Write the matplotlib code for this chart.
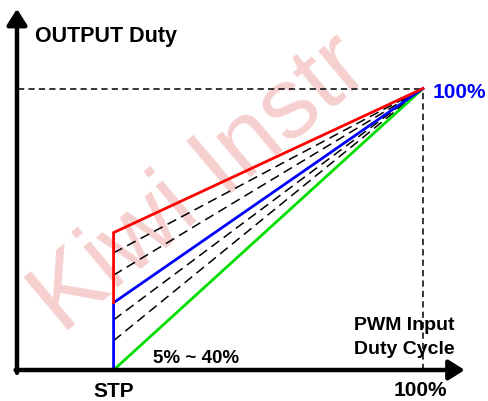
import matplotlib.pyplot as plt

plt.rcParams['font.family'] = ['Liberation Sans', 'DejaVu Sans']
plt.rcParams['lines.scale_dashes'] = False

# input / output duty values (%)
stp = 23.6
full = 100
red_start = 48.8
blue_start = 23.9
green_start = 0
dash_upper = [41.6, 33.7]   # between red and blue
dash_lower = [17.8, 10.4]   # between blue and green
range_label = "5% ~ 40%"

fig = plt.figure(figsize=(4.88, 4.01), dpi=100)
ax = fig.add_axes([0, 0, 1, 1])
# x: 0 -> 18px, 100 -> 423px ; y: 0 -> 370px, 100 -> 88.5px (from top)
ax.set_xlim(-18 / 4.05, (488 - 18) / 4.05)
ax.set_ylim(-31 / 2.815, 370 / 2.815)
ax.axis('off')

# faint watermark
ax.text(10.9, 12.4, "Kiwi Instr", rotation=40, rotation_mode='anchor',
        fontsize=72, color='#f6cfcf', zorder=0, ha='left', va='baseline')

# axes with arrows
arrow = dict(arrowstyle='-|>,head_length=0.95,head_width=0.6', lw=3.2,
             color='black', shrinkA=0, shrinkB=0, mutation_scale=10)
ax.annotate('', xy=(-0.25, 128.3), xytext=(-0.25, -1.0), arrowprops=arrow)
ax.annotate('', xy=(110.3, 0), xytext=(-0.6, 0), arrowprops=arrow)

# 100% guides
ax.plot([0, full], [full, full], color='black', lw=1.1, dashes=(4.5, 3))
ax.plot([full, full], [0, full], color='black', lw=1.1, dashes=(4.5, 3))

# intermediate curves
for y0 in dash_upper + dash_lower:
    ax.plot([stp, full], [y0, full], color='black', lw=1.1, dashes=(7, 4))

# main curves
ax.plot([stp, full], [green_start, full], color='#00dd00', lw=2, solid_capstyle='butt')
ax.plot([stp, stp, full], [green_start, blue_start, full], color='#0000ff', lw=2,
        solid_joinstyle='miter')
ax.plot([stp, stp, full], [blue_start, red_start, full], color='#ff0000', lw=2,
        solid_joinstyle='miter')

# labels
ax.text(4.2, 116.5, "OUTPUT Duty", fontsize=15.5, fontweight='bold', va='baseline')
ax.text(102.5, 96.6, "100%", fontsize=15, fontweight='bold', color='#0000ff', va='baseline')
ax.text(83, 14.2, "PWM Input", fontsize=14, fontweight='bold', va='baseline')
ax.text(83, 5.7, "Duty Cycle", fontsize=14, fontweight='bold', va='baseline')
ax.text(33.3, 2.5, range_label, fontsize=13.5, fontweight='bold', va='baseline')
ax.text(stp, -9.6, "STP", fontsize=15, fontweight='bold', ha='center', va='baseline')
ax.text(99.4, -9.4, "100%", fontsize=15, fontweight='bold', ha='center', va='baseline')

fig.savefig('out.png', dpi=100)
